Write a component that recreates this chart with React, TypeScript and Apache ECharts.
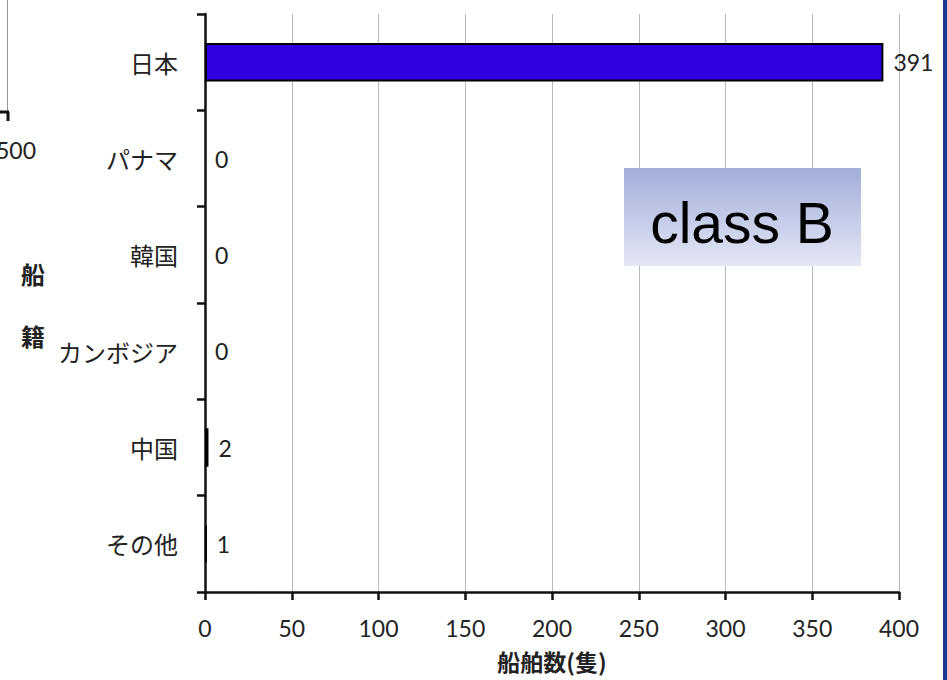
import React, { useEffect, useRef } from "react";
import * as echarts from "echarts";

const categories = ["日本", "パナマ", "韓国", "カンボジア", "中国", "その他"];
const shipCounts = [391, 0, 0, 0, 2, 1];
const xTicks = { min: 0, max: 400, interval: 50 };
const xAxisTitle = "船舶数(隻)";
const yAxisTitleChars = ["船", "籍"];
const badgeText = "class B";
const leftCutLabel = "500";

const NUM_FONT = "Lato, 'Noto Sans CJK JP', sans-serif";
const JP_FONT = "'Noto Sans CJK JP', sans-serif";

export default function App() {
  const ref = useRef<HTMLDivElement>(null);
  useEffect(() => {
    if (!ref.current) return;
    const chart = echarts.init(ref.current, undefined, { renderer: "svg" });
    const barData = shipCounts.map((v) =>
      v === 0 ? { value: v, itemStyle: { borderWidth: 0 } } : { value: v }
    );
    chart.setOption({
      animation: false,
      backgroundColor: "#ffffff",
      grid: { left: 205, right: 48, top: 14, bottom: 88, containLabel: false, outerBoundsMode: "none" },
      xAxis: {
        type: "value",
        min: xTicks.min,
        max: xTicks.max,
        interval: xTicks.interval,
        name: xAxisTitle,
        nameLocation: "middle",
        nameGap: 57,
        nameTextStyle: { fontFamily: JP_FONT, fontSize: 23, fontWeight: "bold", color: "#222" },
        axisLine: { show: true, lineStyle: { color: "#111", width: 2.5 } },
        axisTick: { show: true, length: 8, lineStyle: { color: "#111", width: 2.5 } },
        axisLabel: { fontFamily: NUM_FONT, fontSize: 23, color: "#222", margin: 24 },
        splitLine: { show: true, lineStyle: { color: "#b8b8b8", width: 1 } },
      },
      yAxis: {
        type: "category",
        data: categories,
        inverse: true,
        axisLine: { show: true, lineStyle: { color: "#111", width: 2.5 } },
        axisTick: { show: true, length: 8, lineStyle: { color: "#111", width: 2.5 } },
        axisLabel: { fontFamily: JP_FONT, fontSize: 24, color: "#222", margin: 27 },
        splitLine: { show: false },
      },
      series: [
        {
          type: "bar",
          data: barData,
          barWidth: "40%",
          itemStyle: { color: "#3000E0", borderColor: "#000", borderWidth: 2 },
          label: {
            show: true,
            position: "right",
            distance: 10,
            fontFamily: NUM_FONT,
            fontSize: 23,
            color: "#222",
          },
        },
      ],
      graphic: [
        // partial neighbouring chart at left edge
        { type: "line", shape: { x1: 7.5, y1: 0, x2: 7.5, y2: 112 }, style: { stroke: "#999", lineWidth: 1 } },
        { type: "line", shape: { x1: 0, y1: 112, x2: 9, y2: 112 }, style: { stroke: "#111", lineWidth: 3 } },
        { type: "line", shape: { x1: 8, y1: 112, x2: 8, y2: 121 }, style: { stroke: "#111", lineWidth: 3 } },
        {
          type: "text",
          x: 36,
          y: 150,
          style: { text: leftCutLabel, fontFamily: NUM_FONT, fontSize: 23, fill: "#222", align: "right", verticalAlign: "middle" },
        },
        // vertical y-axis title
        {
          type: "text",
          x: 33,
          y: 273,
          style: { text: yAxisTitleChars[0], fontFamily: JP_FONT, fontSize: 24, fontWeight: "bold", fill: "#222", align: "center", verticalAlign: "middle" },
        },
        {
          type: "text",
          x: 33,
          y: 335,
          style: { text: yAxisTitleChars[1], fontFamily: JP_FONT, fontSize: 24, fontWeight: "bold", fill: "#222", align: "center", verticalAlign: "middle" },
        },
        // class B badge
        {
          type: "rect",
          shape: { x: 624, y: 168, width: 237, height: 98 },
          style: {
            fill: new echarts.graphic.LinearGradient(0, 0, 0, 1, [
              { offset: 0, color: "#a2addb" },
              { offset: 1, color: "#e4e7f5" },
            ]),
          },
          z: 10,
        },
        {
          type: "text",
          x: 742,
          y: 223,
          style: {
            text: badgeText,
            fontFamily: "'Liberation Sans', Arial, sans-serif",
            fontSize: 57,
            fill: "#000",
            align: "center",
            verticalAlign: "middle",
          },
          z: 11,
        },
        // navy frame strip at right edge
        { type: "rect", shape: { x: 943, y: 0, width: 4, height: 680 }, style: { fill: "#1c3a8f" }, z: 12 },
      ],
    });
    return () => chart.dispose();
  }, []);
  return (
    <div
      ref={ref}
      style={{ position: "absolute", left: 0, top: 0, width: 947, height: 680 }}
    />
  );
}
